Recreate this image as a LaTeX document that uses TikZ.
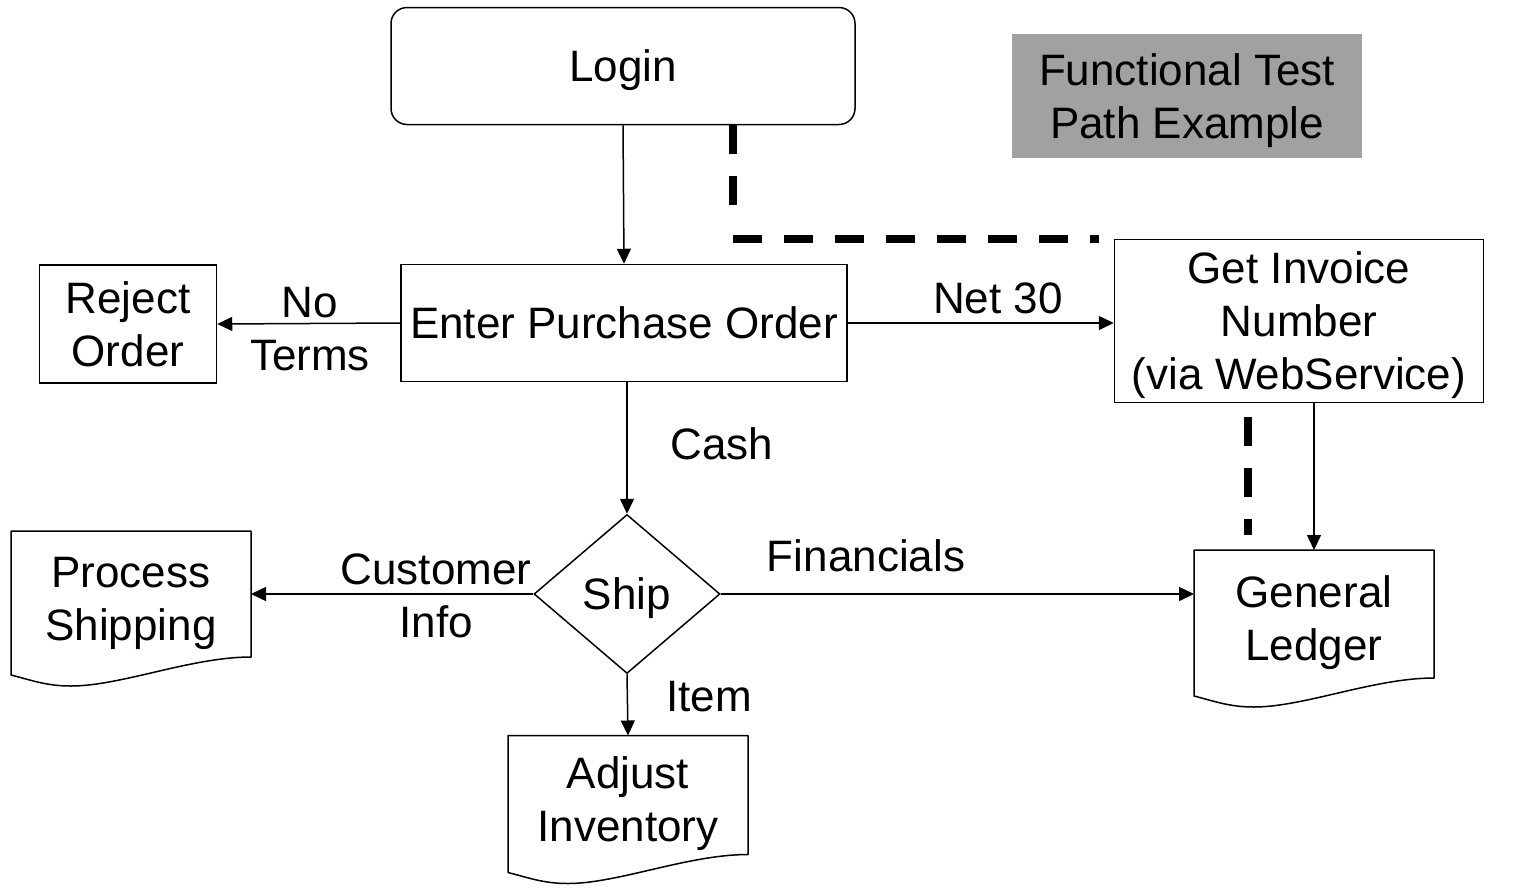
\documentclass[tikz,border=0pt]{standalone}
\usepackage{fontspec}
\setmainfont{Liberation Sans}
\usetikzlibrary{arrows.meta,shapes.geometric}

\definecolor{notegray}{RGB}{161,161,161}

\begin{document}
\begin{tikzpicture}[
        x=1pt, y=-1pt,
        font=\fontsize{44}{53}\selectfont,
        box/.style={rectangle, draw=black, line width=1.5pt, align=center, inner sep=0pt, text depth=0pt},
        rbox/.style={box, rounded corners=16pt},
        decision/.style={diamond, draw=black, line width=1.5pt, inner sep=0pt, text depth=0pt},
        doc/.style={rectangle, align=center, inner sep=0pt, outer sep=0pt, minimum width=240pt},
        note/.style={rectangle, fill=notegray, align=center, inner sep=0pt, text depth=0pt},
        flow/.style={line width=1.5pt, -{Triangle[length=15pt, width=14pt]}},
        dashlink/.style={line width=8pt, dash pattern=on 29pt off 22pt},
        lbl/.style={align=center, inner sep=0pt},
    ]

        \useasboundingbox (0,0) rectangle (1515,892);

        % boxes
        \node[rbox, minimum width=464pt, minimum height=117pt] (login) at (623,66) {Login};
        \node[note, minimum width=350pt, minimum height=124pt] (title) at (1187,96) {Functional Test\\Path Example};
        \node[box, minimum width=446pt, minimum height=117pt] (order) at (624,323) {Enter Purchase Order};
        \node[box, minimum width=177pt, minimum height=118pt] (reject) at (128,324) {Reject\\Order};
        \node[box, minimum width=369pt, minimum height=163pt] (invoice) at (1299,321) {Get Invoice\\Number\\(via WebService)};
        \node[decision, minimum width=186pt, minimum height=159pt] (ship) at (627,594) {Ship};

        \node[doc, minimum height=144pt] (shipping) at (131,603) {Process\\Shipping};
        \node[doc, minimum height=137pt] (inventory) at (628,804) {Adjust\\Inventory};
        \node[doc, minimum height=146pt] (ledger) at (1314,623) {General\\Ledger};

        % document outlines
        \foreach \docnode in {shipping,inventory,ledger} {
            \draw[line width=1.5pt, line join=round] (\docnode.south west) -- (\docnode.north west) -- (\docnode.north east)
                -- ([shift={(0,-18)}]\docnode.south east)
                .. controls +(-60,0) and +(50,0) .. ([shift={(60,11)}]\docnode.south west)
                .. controls +(-25,0) and +(20,5) .. (\docnode.south west) -- cycle;
        }

        % flow
        \draw[flow] (login.south) -- (order.north);
        \draw[flow] (order.west) -- (reject.east);
        \draw[flow] (order.east) -- (order.east -| invoice.west);
        \draw[flow] (ship.north |- order.south) -- (ship.north);
        \draw[flow] (ship.west) -- (ship.west -| shipping.east);
        \draw[flow] (ship.east) -- (ship.east -| ledger.west);
        \draw[flow] (ship.south) -- (inventory.north);
        \draw[flow] (ledger.north |- invoice.south) -- (ledger.north);

        % dashed links
        \coordinate (tap) at (733,125);
        \coordinate (dashx) at (1248,0);
        \draw[dashlink] (tap) -- ++(0,80);
        \draw[dashlink] (tap |- invoice.north) -- ([xshift=-15pt]invoice.north west);
        \draw[dashlink, shorten <=14pt, shorten >=15pt] (dashx |- invoice.south) -- (dashx |- ledger.north);

        % labels
        \node[lbl] (noterms) at (310,329) {No\\Terms};
        \node[lbl] (net) at (998,298) {Net 30};
        \node[lbl] (cash) at (722,444) {Cash};
        \node[lbl] (custinfo) at (436,596) {Customer\\Info};
        \node[lbl] (fin) at (866,556) {Financials};
        \node[lbl] (item) at (709,697) {Item};
    \end{tikzpicture}
\end{document}
